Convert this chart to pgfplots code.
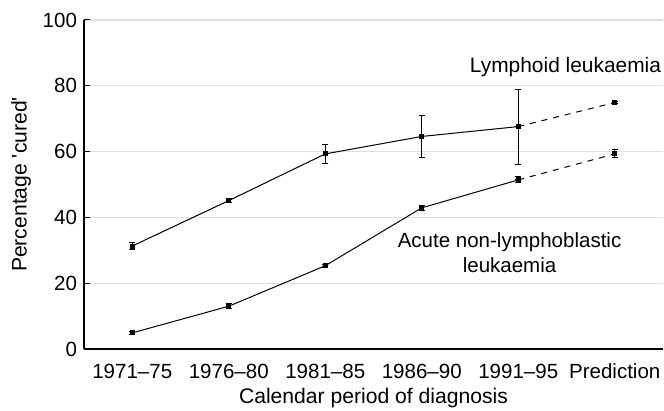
\documentclass[border=0pt]{standalone}
\usepackage{pgfplots}
\pgfplotsset{compat=1.18}
\usepackage{fontspec}
\setmainfont{Liberation Sans}

\begin{document}
\begin{tikzpicture}
% fixed page: axis box south west sits at (0,0)
\useasboundingbox (-42bp,-31bp) rectangle ++(332bp,205.5bp);
\begin{axis}[
    at={(0,0)}, anchor=south west,
    scale only axis,
    width=289.5bp, height=164.5bp,
    xmin=0, xmax=6, ymin=0, ymax=100,
    axis x line*=bottom, axis y line*=left,
    axis line style={line width=0.6bp},
    xtick={0.5,1.5,2.5,3.5,4.5,5.5},
    xticklabels={1971--75,1976--80,1981--85,1986--90,1991--95,Prediction},
    major x tick style={draw=none},
    extra x ticks={1,2,3,4,5,6},
    extra x tick labels={},
    extra x tick style={tick style={black, line width=0.5bp}, major tick length=3bp, grid=none},
    ytick={0,20,40,60,80,100},
    ymajorgrids,
    grid style={gray!25, line width=0.6bp},
    major tick length=3bp,
    tick align=inside,
    tick style={black, line width=0.5bp},
    tick label style={font=\fontsize{10.3}{12}\selectfont},
    xticklabel style={yshift=-4bp},
    /pgf/number format/assume math mode=true,
    xlabel={Calendar period of diagnosis},
    ylabel={Percentage \textquotesingle cured\textquotesingle},
    label style={font=\fontsize{10.6}{12}\selectfont},
    xlabel style={yshift=2.5bp},
    ylabel style={yshift=-1bp},
    clip=false,
]
% lymphoid leukaemia, observed
\addplot[black, line width=0.5bp, mark=square*, mark size=1bp,
    error bars/.cd, y dir=both, y explicit,
    error mark options={rotate=90, mark size=1.6bp, line width=0.5bp},
    error bar style={line width=0.5bp}]
table[x=x, y=y, y error plus=ep, y error minus=em] {
x y ep em
0.5 31.3 1.2 1.2
1.5 45.1 0.7 0.7
2.5 59.3 3.0 3.0
3.5 64.6 6.4 6.5
4.5 67.6 11.3 11.4
};
% lymphoid leukaemia, prediction
\addplot[black, line width=0.5bp, dashed, mark=square*, mark size=1bp,
    mark options={solid},
    error bars/.cd, y dir=both, y explicit,
    error mark options={rotate=90, mark size=1.6bp, line width=0.5bp, solid},
    error bar style={line width=0.5bp, solid}]
table[x=x, y=y, y error plus=ep, y error minus=em] {
x y ep em
4.5 67.6 0 0
5.5 74.9 0.4 0.4
};
% acute non-lymphoblastic leukaemia, observed
\addplot[black, line width=0.5bp, mark=square*, mark size=1bp,
    error bars/.cd, y dir=both, y explicit,
    error mark options={rotate=90, mark size=1.6bp, line width=0.5bp},
    error bar style={line width=0.5bp}]
table[x=x, y=y, y error plus=ep, y error minus=em] {
x y ep em
0.5 4.9 0.4 0.4
1.5 13.0 0.8 0.8
2.5 25.3 0.5 0.5
3.5 42.9 0.8 0.8
4.5 51.4 0.9 0.9
};
% acute non-lymphoblastic leukaemia, prediction
\addplot[black, line width=0.5bp, dashed, mark=square*, mark size=1bp,
    mark options={solid},
    error bars/.cd, y dir=both, y explicit,
    error mark options={rotate=90, mark size=1.6bp, line width=0.5bp, solid},
    error bar style={line width=0.5bp, solid}]
table[x=x, y=y, y error plus=ep, y error minus=em] {
x y ep em
4.5 51.4 0 0
5.5 59.3 1.2 1.2
};
\node[font=\fontsize{10.5}{12}\selectfont] at (axis cs:4.99,85.7) {Lymphoid leukaemia};
\node[font=\fontsize{10.3}{12.5}\selectfont, align=center, inner sep=0pt]
    at (axis cs:4.41,29.3) {Acute non-lymphoblastic\\leukaemia};
\end{axis}
\end{tikzpicture}
\end{document}
